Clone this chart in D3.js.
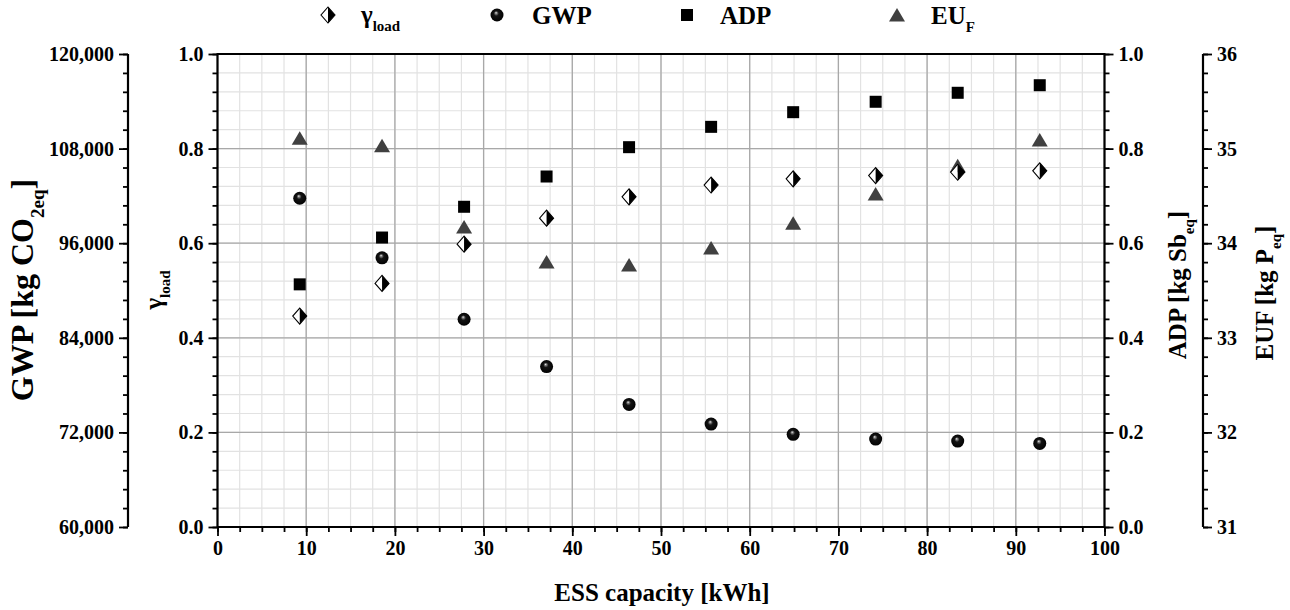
<!DOCTYPE html>
<html>
<head>
<meta charset="utf-8">
<script src="https://cdn.jsdelivr.net/npm/d3@7"></script>
<style>
  html, body { margin: 0; padding: 0; background: #fff; }
  svg { display: block; }
  text { font-family: "Liberation Serif", "Times New Roman", serif; font-weight: bold; fill: #000; }
</style>
</head>
<body>
<svg id="chart" width="1290" height="610"></svg>
<script>
// ESS capacity [kWh] for each simulated configuration
const capacity = [9.27, 18.55, 27.8, 37.1, 46.4, 55.65, 64.9, 74.2, 83.45, 92.7];
// Load coverage ratio
const gammaLoad = [0.446, 0.515, 0.598, 0.653, 0.698, 0.723, 0.736, 0.743, 0.750, 0.753];
// Global warming potential [kg CO2eq]
const gwp = [101700, 94150, 86350, 80350, 75550, 73050, 71750, 71150, 70900, 70600];
// Abiotic depletion potential [kg Sbeq]
const adp = [0.513, 0.612, 0.677, 0.741, 0.803, 0.846, 0.877, 0.899, 0.918, 0.934];
// Freshwater eutrophication [kg Peq]
const euf = [35.11, 35.03, 34.17, 33.80, 33.77, 33.95, 34.21, 34.52, 34.82, 35.09];

const xTicks = [0, 10, 20, 30, 40, 50, 60, 70, 80, 90, 100];
const unitTicks = [0, 0.2, 0.4, 0.6, 0.8, 1.0];
const gwpTicks = [60000, 72000, 84000, 96000, 108000, 120000];
const eufTicks = [31, 32, 33, 34, 35, 36];

const svg = d3.select("#chart");
const L = 217.5, R = 1104.5, T = 54, B = 527;

const x = d3.scaleLinear().domain([0, 100]).range([L, R]);
const yUnit = d3.scaleLinear().domain([0, 1]).range([B, T]);
const yGwp = d3.scaleLinear().domain([60000, 120000]).range([B, T]);
const yEuf = d3.scaleLinear().domain([31, 36]).range([B, T]);

// minor tick positions
const minorX = d3.range(0, 100.001, 2.5);
const minorUnit = d3.range(0, 1.0001, 0.04);
const minorGwp = d3.range(60000, 120001, 2400);
const minorEuf = d3.range(31, 36.001, 0.2);

// grid
const grid = svg.append("g");
grid.selectAll(".mgx").data(minorX).join("line")
  .attr("x1", d => x(d)).attr("x2", d => x(d)).attr("y1", T).attr("y2", B)
  .attr("stroke", "#e2e2e2").attr("stroke-width", 1.2);
grid.selectAll(".mgy").data(minorUnit).join("line")
  .attr("y1", d => yUnit(d)).attr("y2", d => yUnit(d)).attr("x1", L).attr("x2", R)
  .attr("stroke", "#e2e2e2").attr("stroke-width", 1.2);
grid.selectAll(".Mgx").data(xTicks).join("line")
  .attr("x1", d => x(d)).attr("x2", d => x(d)).attr("y1", T).attr("y2", B)
  .attr("stroke", "#a8a8a8").attr("stroke-width", 1.3);
grid.selectAll(".Mgy").data(unitTicks).join("line")
  .attr("y1", d => yUnit(d)).attr("y2", d => yUnit(d)).attr("x1", L).attr("x2", R)
  .attr("stroke", "#a8a8a8").attr("stroke-width", 1.3);

// axis builder: line, major ticks with labels, minor ticks
function makeAxis(orient, scale) {
  return orient === "left" ? d3.axisLeft(scale) : orient === "right" ? d3.axisRight(scale) : d3.axisBottom(scale);
}
function drawAxis(g, scale, majors, minors, orient, fmt) {
  g.call(makeAxis(orient, scale).tickValues(minors).tickSize(5).tickFormat(""));
  g.selectAll(".domain").remove();
  const gm = g.append("g");
  gm.call(makeAxis(orient, scale).tickValues(majors).tickSize(9).tickPadding(5).tickFormat(fmt));
  gm.select(".domain").attr("stroke-width", 2.2).attr("d", orient === "bottom"
    ? `M${scale.range()[0]},0H${scale.range()[1]}` : `M0,${scale.range()[0]}V${scale.range()[1]}`);
  g.selectAll("line").attr("stroke", "#000").attr("stroke-width", 1.8);
  gm.selectAll("text").style("font-size", "20px")
    .style("font-family", "'Liberation Serif', serif").style("font-weight", "bold");
  return g;
}

drawAxis(svg.append("g").attr("transform", `translate(0,${B})`), x, xTicks, minorX, "bottom", d3.format("d"));
drawAxis(svg.append("g").attr("transform", `translate(${L},0)`), yUnit, unitTicks, minorUnit, "left", d3.format(".1f"));
drawAxis(svg.append("g").attr("transform", `translate(${R},0)`), yUnit, unitTicks, minorUnit, "right", d3.format(".1f"));
drawAxis(svg.append("g").attr("transform", `translate(128,0)`), yGwp, gwpTicks, minorGwp, "left", d3.format(","));
drawAxis(svg.append("g").attr("transform", `translate(1203,0)`), yEuf, eufTicks, minorEuf, "right", d3.format("d"));

// top frame line
svg.append("line").attr("x1", L - 1).attr("x2", R + 1).attr("y1", T).attr("y2", T)
  .attr("stroke", "#000").attr("stroke-width", 2.2);

// shading for the GWP spheres
const defs = svg.append("defs");
const rg = defs.append("radialGradient").attr("id", "sphere")
  .attr("cx", "50%").attr("cy", "50%").attr("r", "55%").attr("fx", "42%").attr("fy", "32%");
rg.append("stop").attr("offset", "0%").attr("stop-color", "#ffffff");
rg.append("stop").attr("offset", "12%").attr("stop-color", "#8a8a8a");
rg.append("stop").attr("offset", "35%").attr("stop-color", "#141414");
rg.append("stop").attr("offset", "100%").attr("stop-color", "#000000");

// marker painters
function diamond(g, cx, cy) {
  const h = 8, w = 7;
  g.append("path").attr("d", `M${cx},${cy - h}L${cx - w},${cy}L${cx},${cy + h}Z`).attr("fill", "#fff");
  g.append("path").attr("d", `M${cx},${cy - h}L${cx + w},${cy}L${cx},${cy + h}Z`).attr("fill", "#000");
  g.append("path").attr("d", `M${cx},${cy - h}L${cx + w},${cy}L${cx},${cy + h}L${cx - w},${cy}Z`)
    .attr("fill", "none").attr("stroke", "#000").attr("stroke-width", 1.1);
}
function sphere(g, cx, cy) {
  g.append("circle").attr("cx", cx).attr("cy", cy).attr("r", 6.5).attr("fill", "url(#sphere)");
}
function square(g, cx, cy) {
  g.append("rect").attr("x", cx - 6).attr("y", cy - 6).attr("width", 12).attr("height", 12).attr("fill", "#000");
}
function triangle(g, cx, cy) {
  g.append("path").attr("d", `M${cx},${cy - 7}L${cx + 8},${cy + 6.5}L${cx - 8},${cy + 6.5}Z`).attr("fill", "#404040");
}

const marks = svg.append("g");
capacity.forEach((c, i) => triangle(marks, x(c), yEuf(euf[i])));
capacity.forEach((c, i) => square(marks, x(c), yUnit(adp[i])));
capacity.forEach((c, i) => diamond(marks, x(c), yUnit(gammaLoad[i])));
capacity.forEach((c, i) => sphere(marks, x(c), yGwp(gwp[i])));

// axis titles
function vTitle(cx, cy, size, subSize, parts) {
  const t = svg.append("text").attr("transform", `translate(${cx},${cy}) rotate(-90)`)
    .attr("text-anchor", "middle").style("font-size", size + "px");
  parts.forEach(p => {
    const s = t.append("tspan").text(p.t);
    if (p.sub) s.attr("baseline-shift", "sub").style("font-size", subSize + "px");
  });
}
vTitle(33, 290, 32, 19, [{t: "GWP [kg CO"}, {t: "2eq", sub: true}, {t: "]"}]);
vTitle(162, 290, 25, 15, [{t: "γ"}, {t: "load", sub: true}]);
vTitle(1186, 285, 25, 15, [{t: "ADP [kg Sb"}, {t: "eq", sub: true}, {t: "]"}]);
vTitle(1273, 293, 25, 15, [{t: "EUF [kg P"}, {t: "eq", sub: true}, {t: "]"}]);

svg.append("text").attr("x", 662).attr("y", 601).attr("text-anchor", "middle")
  .style("font-size", "25px").text("ESS capacity [kWh]");

// legend
const lg = svg.append("g");
diamond(lg, 328, 15);
const t1 = lg.append("text").attr("x", 361).attr("y", 23).style("font-size", "25px");
t1.append("tspan").text("γ");
t1.append("tspan").attr("baseline-shift", "sub").style("font-size", "15px").text("load");
sphere(lg, 497, 15);
lg.append("text").attr("x", 532).attr("y", 24).style("font-size", "25px").text("GWP");
square(lg, 687, 15);
lg.append("text").attr("x", 720).attr("y", 24).style("font-size", "25px").text("ADP");
triangle(lg, 897, 15);
const t4 = lg.append("text").attr("x", 931).attr("y", 24).style("font-size", "25px");
t4.append("tspan").text("EU");
t4.append("tspan").attr("baseline-shift", "sub").style("font-size", "15px").text("F");
</script>
</body>
</html>
